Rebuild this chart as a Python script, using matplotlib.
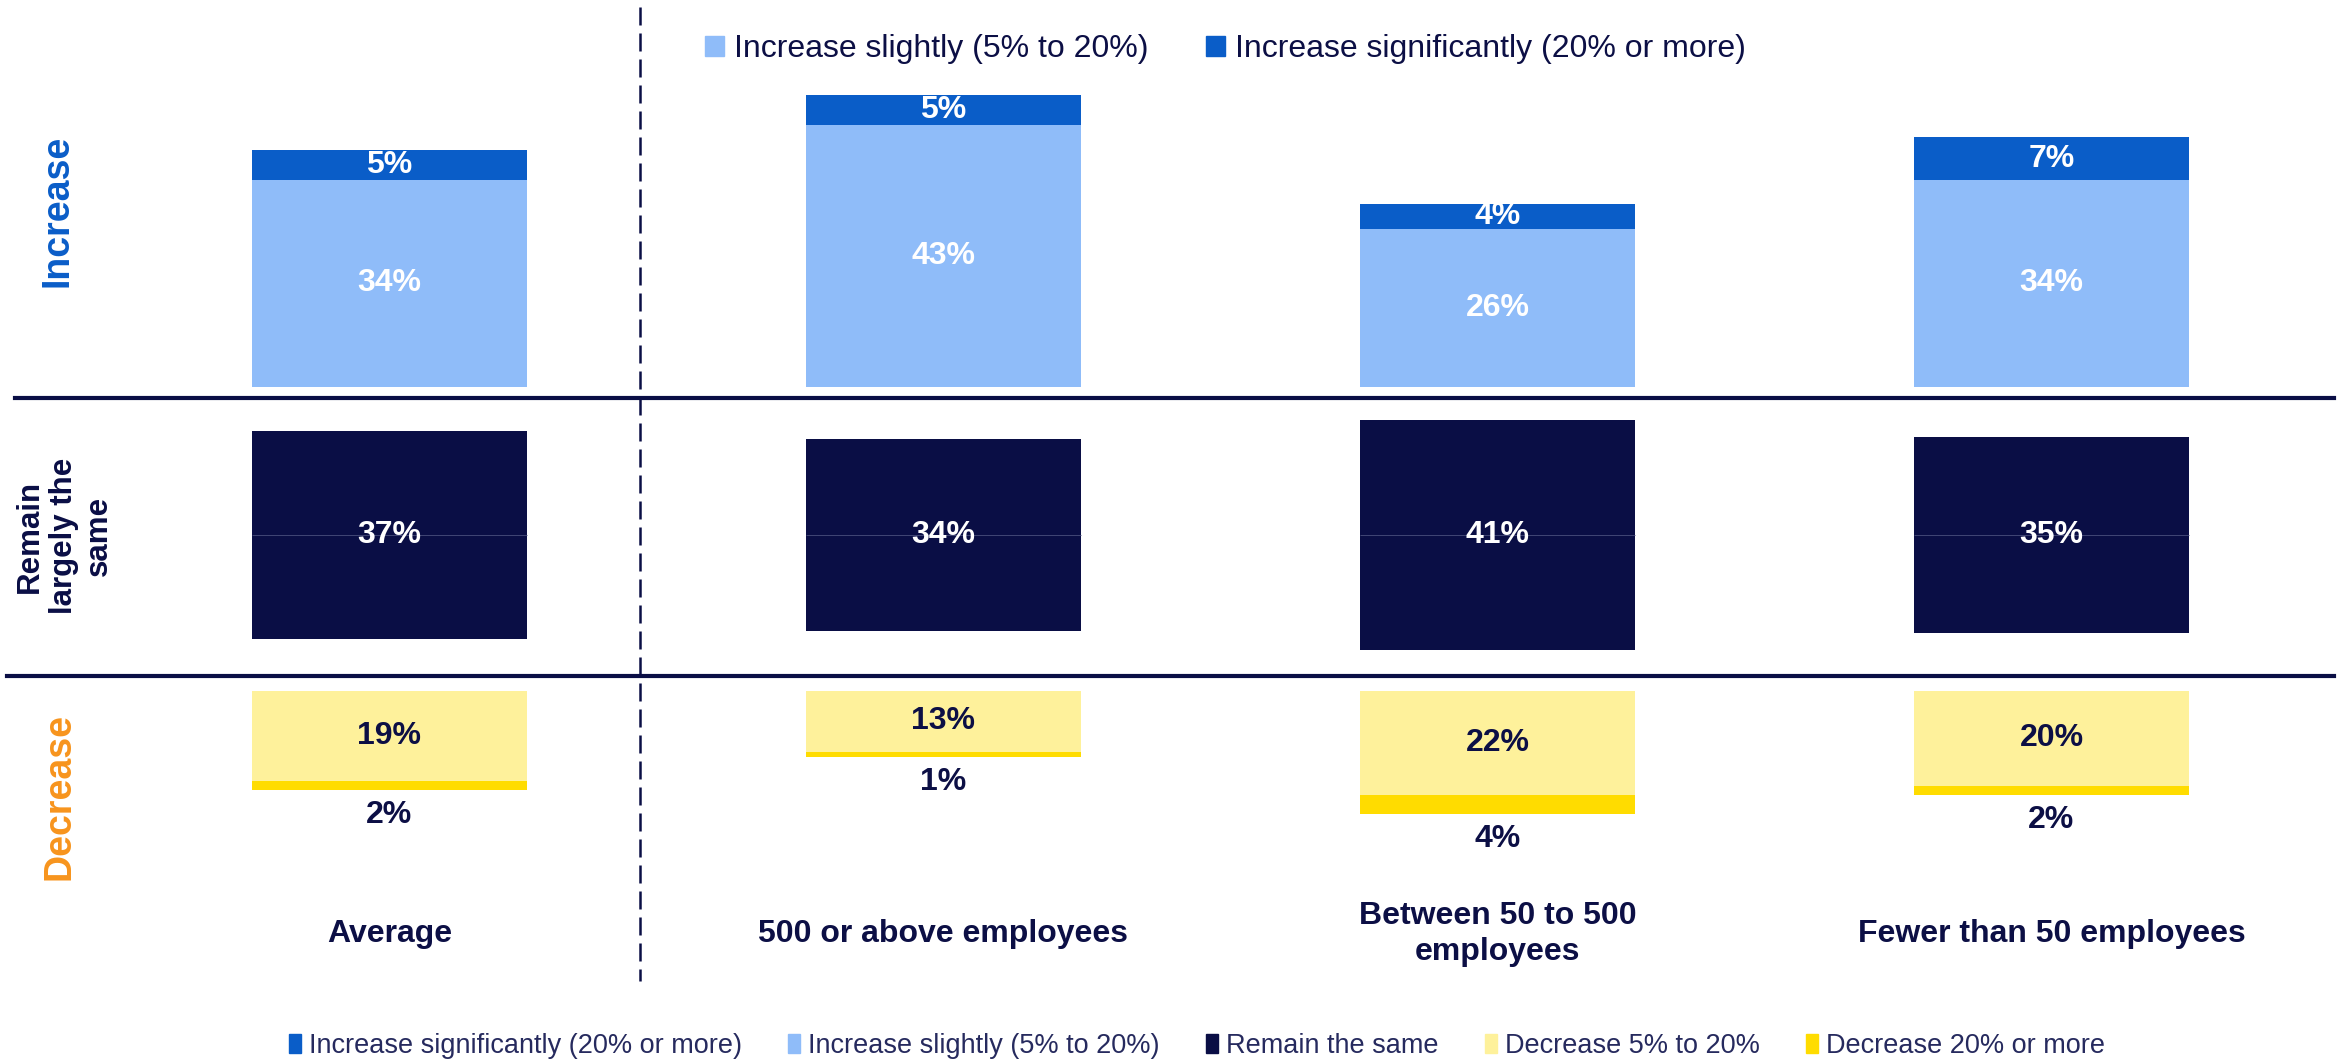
import numpy as np
import matplotlib.pyplot as plt
from matplotlib.patches import Patch
from matplotlib.lines import Line2D
from matplotlib.transforms import blended_transform_factory

plt.rcParams['font.family'] = ['Liberation Sans', 'DejaVu Sans']

# survey shares (%) per company size
categories = ['Average', '500 or above employees',
              'Between 50 to 500\nemployees', 'Fewer than 50 employees']
inc_slight = [34, 43, 26, 34]
inc_signif = [5, 5, 4, 7]
remain = [37, 34, 41, 35]
dec_slight = [19, 13, 22, 20]
dec_signif = [2, 1, 4, 2]

DARK_BLUE = '#0a5dc8'
LIGHT_BLUE = '#8fbcf9'
NAVY = '#0a0e45'
PALE_YELLOW = '#fef19b'
YELLOW = '#ffdc00'
ORANGE = '#f7941d'
TEXT = '#0c0f45'

W, H = 2349, 1061
fig = plt.figure(figsize=(W / 100, H / 100), dpi=100)


def band(top, bottom):
    # full-width axes between two pixel rows
    ax = fig.add_axes([0, 1 - bottom / H, 1, (bottom - top) / H])
    ax.set_xlim(-0.703, 3.537)
    ax.axis('off')
    return ax


x = np.arange(len(categories))
w = 0.497
lab = dict(ha='center', va='center', fontsize=23, fontweight='bold')

# --- increase row
ax_inc = band(8, 386.5)
ax_inc.set_ylim(0, 62.3)
ax_inc.bar(x, inc_slight, w, color=LIGHT_BLUE)
ax_inc.bar(x, inc_signif, w, bottom=inc_slight, color=DARK_BLUE)
for xi, s, d in zip(x, inc_slight, inc_signif):
    ax_inc.text(xi, s / 2, f'{s}%', color='white', **lab)
    ax_inc.text(xi, s + d / 2, f'{d}%', color='white', **lab)

# --- remain row, bars centred on zero
ax_rem = band(410, 660)
ax_rem.set_ylim(-22.25, 22.25)
rem = np.array(remain)
ax_rem.bar(x, rem, w, bottom=-rem / 2, color=NAVY)
ax_rem.hlines(np.zeros(len(x)), x - w / 2, x + w / 2, color='#4a4f7c', lw=0.6)
for xi, v in zip(x, remain):
    ax_rem.text(xi, 0, f'{v}%', color='white', **lab)

# --- decrease row, hanging downwards
ax_dec = band(690.6, 900)
ax_dec.set_ylim(-44.1, 0)
ds = np.array(dec_slight)
dd = np.array(dec_signif)
ax_dec.bar(x, -ds, w, color=PALE_YELLOW)
ax_dec.bar(x, -dd, w, bottom=-ds, color=YELLOW)
for xi, s, d in zip(x, dec_slight, dec_signif):
    ax_dec.text(xi, -s / 2, f'{s}%', color=TEXT, **lab)
    ax_dec.annotate(f'{d}%', (xi, -(s + d)), xytext=(0, -18),
                    textcoords='offset points', color=TEXT, **lab)

# category names under the bars
tr = blended_transform_factory(ax_dec.transData, fig.transFigure)
for xi, name in zip(x, categories):
    ax_dec.text(xi, 1 - 934 / H, name, transform=tr, color=TEXT,
                ha='center', va='center', fontsize=23, fontweight='bold',
                linespacing=1.3)

# row titles
fig.text(57 / W, 1 - 211 / H, 'Increase', rotation=90, color=DARK_BLUE,
         ha='center', va='center', fontsize=27, fontweight='bold')
fig.text(64 / W, 1 - 536 / H, 'Remain\nlargely the\nsame', rotation=90,
         color=NAVY, ha='center', va='center', fontsize=22.5,
         fontweight='bold', linespacing=1.2)
fig.text(60 / W, 1 - 796 / H, 'Decrease', rotation=90, color=ORANGE,
         ha='center', va='center', fontsize=27, fontweight='bold')

# separators
fig.add_artist(Line2D([15 / W, 2334 / W], [1 - 398 / H] * 2, color=NAVY, lw=3))
fig.add_artist(Line2D([7 / W, 2334 / W], [1 - 676 / H] * 2, color=NAVY, lw=3))
fig.add_artist(Line2D([640 / W] * 2, [1 - 7 / H, 1 - 981 / H], color=NAVY,
                      lw=1.8, dashes=(7.2, 3.2)))

# legends
top_handles = [Patch(color=LIGHT_BLUE, label='Increase slightly (5% to 20%)'),
               Patch(color=DARK_BLUE, label='Increase significantly (20% or more)')]
fig.legend(handles=top_handles, loc='center', bbox_to_anchor=(0.5217, 1 - 49 / H),
           ncol=2, frameon=False, fontsize=23, labelcolor=TEXT,
           handlelength=0.6, handleheight=0.6, handletextpad=0.3,
           columnspacing=1.8)

bottom_handles = [Patch(color=DARK_BLUE, label='Increase significantly (20% or more)'),
                  Patch(color=LIGHT_BLUE, label='Increase slightly (5% to 20%)'),
                  Patch(color=NAVY, label='Remain the same'),
                  Patch(color=PALE_YELLOW, label='Decrease 5% to 20%'),
                  Patch(color=YELLOW, label='Decrease 20% or more')]
fig.legend(handles=bottom_handles, loc='center', bbox_to_anchor=(0.5096, 1 - 1046 / H),
           ncol=5, frameon=False, fontsize=19.5, labelcolor='#262a5e',
           handlelength=0.45, handleheight=0.7, handletextpad=0.3,
           columnspacing=1.7)

fig.savefig('out.png', dpi=100)
